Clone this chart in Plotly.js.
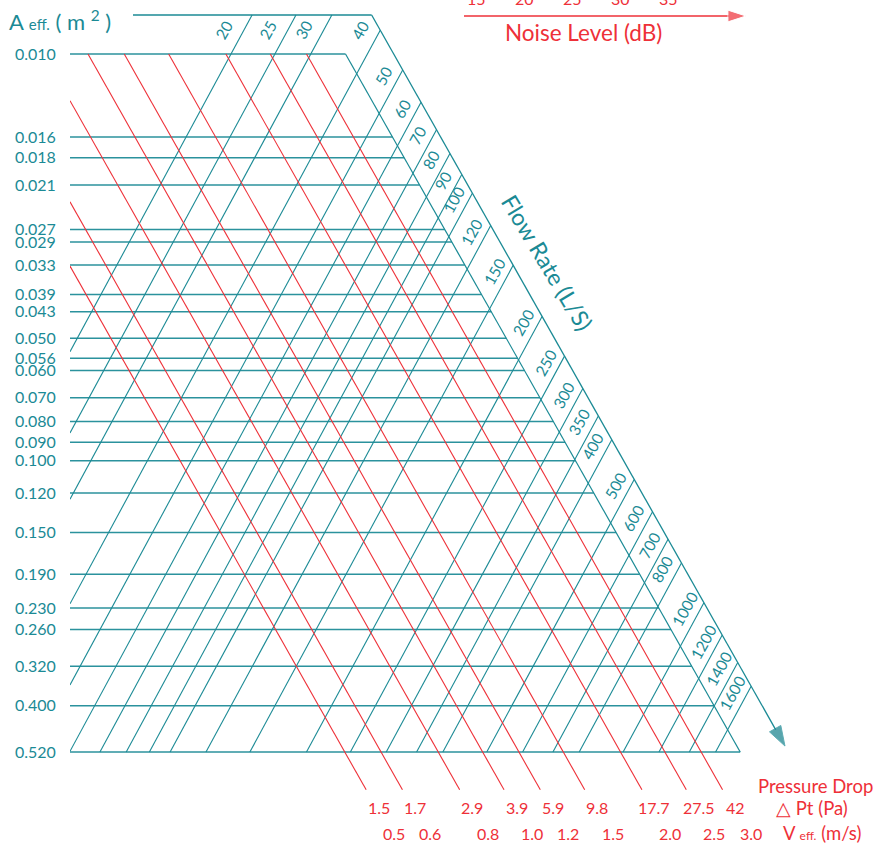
<!DOCTYPE html>
<html><head><meta charset="utf-8">
<script src="https://cdn.plot.ly/plotly-3.0.1.min.js"></script>
<style>html,body{margin:0;padding:0;background:#fff}</style>
</head><body><div id="chart" style="width:876px;height:843px"></div>
<script>
// ---------------- data ----------------
const areaValues = [0.010,0.016,0.018,0.021,0.027,0.029,0.033,0.039,0.043,0.050,0.056,0.060,0.070,0.080,0.090,0.100,0.120,0.150,0.190,0.230,0.260,0.320,0.400,0.520];
const areaLabels = ["0.010","0.016","0.018","0.021","0.027","0.029","0.033","0.039","0.043","0.050","0.056","0.060","0.070","0.080","0.090","0.100","0.120","0.150","0.190","0.230","0.260","0.320","0.400","0.520"];
const flowRates = [20,25,30,40,50,60,70,80,90,100,120,150,200,250,300,350,400,500,600,700,800,1000,1200,1400,1600];
const velocities = [0.5,0.6,0.8,1.0,1.2,1.5,2.0,2.5,3.0];
const velocityLabels = ["0.5","0.6","0.8","1.0","1.2","1.5","2.0","2.5","3.0"];
const pressureLabels = ["1.5","1.7","2.9","3.9","5.9","9.8","17.7","27.5","42"];
const noiseLevels = [15,20,25,30,35];

// ---------------- nomogram projection ----------------
const lg = Math.log10;
const TEAL = '#1b8a95', TEAL_H = '#2b929d', RED = '#ee3038';
const FONT = 'Lato, "Open Sans", sans-serif';
const X_LEFT = 70;
const A_TOP = 0.00802, A_BOT = 0.52, A_RED_START = 0.010, A_RED_END = 0.644, A_ARROW = 0.5026;
const V_INNER = 3.65, V_OUTER = 4.65, V_MID = 4.15;
function xQ(Q, A){ return 231 + 453*lg(Q/20) - 220*(lg(A)+2); }
function xV(V, A){ return 88 + 458*lg(V) + 230*(lg(A)+2); }
function aQ(Q, x){ return Math.pow(10, (231 + 453*lg(Q/20) - x)/220 - 2); }
function aV(V, x){ return Math.pow(10, (x - 88 - 458*lg(V))/230 - 2); }
function aQV(Q, V){ return Math.pow(10, (143 + 453*lg(Q/20) - 458*lg(V))/450 - 2); }
// paper helper for frame texts (pixel position in the 876x843 figure)
function P(px, py){ return {x:(px-70)/806, y:1-py/843, xref:'paper', yref:'paper', yanchor:'middle'}; }

const traces = [];
// horizontal A lines
{
  const x=[], y=[];
  areaValues.forEach(A=>{ x.push(X_LEFT, xV(V_INNER, A), null); y.push(A, A, null); });
  traces.push({x, y, mode:'lines', line:{color:TEAL_H, width:1.5}, hoverinfo:'skip'});
}
// top frame line + inner diagonal
traces.push({x:[133, xV(V_OUTER, A_TOP)], y:[A_TOP, A_TOP], mode:'lines', line:{color:TEAL, width:1.3}, hoverinfo:'skip'});
traces.push({x:[xV(V_INNER, 0.01), xV(V_INNER, A_BOT)], y:[0.01, A_BOT], mode:'lines', line:{color:TEAL, width:1.2}, hoverinfo:'skip'});
// flow rate lines
{
  const x=[], y=[];
  flowRates.forEach(Q=>{
    let ab = A_BOT, xb = xQ(Q, A_BOT);
    if (xb < X_LEFT){ ab = aQ(Q, X_LEFT); xb = X_LEFT; }
    let ae = aQV(Q, V_OUTER);
    if (ae < A_TOP) ae = A_TOP;
    x.push(xb, xQ(Q, ae), null); y.push(ab, ae, null);
  });
  traces.push({x, y, mode:'lines', line:{color:TEAL, width:1.1}, hoverinfo:'skip'});
}
// velocity lines
{
  const x=[], y=[];
  velocities.forEach(V=>{
    let a0 = A_RED_START, x0 = xV(V, A_RED_START);
    if (x0 < X_LEFT){ a0 = aV(V, X_LEFT); x0 = X_LEFT; }
    x.push(x0, xV(V, A_RED_END), null); y.push(a0, A_RED_END, null);
  });
  traces.push({x, y, mode:'lines', line:{color:RED, width:1.1}, hoverinfo:'skip'});
}
// outer diagonal with arrow
traces.push({x:[xV(V_OUTER, A_TOP), xV(V_OUTER, A_ARROW)], y:[A_TOP, A_ARROW], mode:'lines+markers',
  line:{color:TEAL, width:1.3}, marker:{symbol:'arrow', size:[0,21], angleref:'previous', color:'#12808b'}, hoverinfo:'skip'});
// noise level arrow
const A_NOISE = Math.pow(10, -2 + (16-54)/406.8);
traces.push({x:[464, 746], y:[A_NOISE, A_NOISE], mode:'lines+markers',
  line:{color:RED, width:1.3}, marker:{symbol:'arrow', size:[0,19], angleref:'previous', color:RED}, hoverinfo:'skip'});

// ---------------- annotations ----------------
const ann = [];
// flow rate labels
flowRates.forEach(Q=>{
  const ac = aQV(Q, V_MID);
  let x, A;
  if (ac < 0.01){
    A = Math.pow(10, -2 + (30-54)/406.8);
    x = xQ(Q, A) - 20;
  } else {
    A = ac / Math.pow(10, 14/406.8);
    x = xV(V_MID, A);
  }
  ann.push({x, y:lg(A), xref:'x', yref:'y', xanchor:'center', yanchor:'middle', text:String(Q), showarrow:false, textangle:-61,
    font:{family:FONT, size:15.5, color:TEAL}});
});
// bottom labels
const LOG_P = -2 + (807-54)/406.8, LOG_V = -2 + (833-54)/406.8;
velocities.forEach((V,i)=>{
  const xe = xV(V, A_RED_END);
  ann.push({x:xe+12.5, y:LOG_P, xref:'x', yref:'y', xanchor:'center', yanchor:'middle', text:pressureLabels[i], showarrow:false, font:{family:FONT,size:16,color:RED}});
  ann.push({x:xe+28, y:LOG_V, xref:'x', yref:'y', xanchor:'center', yanchor:'middle', text:velocityLabels[i], showarrow:false, font:{family:FONT,size:16,color:RED}});
});
// noise level scale labels (cut at top)
noiseLevels.forEach(n=>{
  ann.push(Object.assign(P(572.2 + 9.62*(n-25), -2), {xanchor:'center', text:String(n), showarrow:false, font:{family:FONT,size:16,color:RED}}));
});
ann.push(Object.assign(P(583, 33), {xanchor:'center', text:'Noise Level (dB)', showarrow:false, font:{family:FONT,size:22.5,color:RED}}));
ann.push(Object.assign(P(547, 262), {xanchor:'center', text:'Flow Rate (L/S)', showarrow:false, textangle:59, font:{family:FONT,size:23,color:TEAL}}));
ann.push(Object.assign(P(7, 20), {text:"A <span style='font-size:15px'>eff.</span> ( m <sup>2</sup> )", showarrow:false, xanchor:'left', font:{family:FONT,size:22,color:TEAL}}));
ann.push(Object.assign(P(756, 786), {text:'Pressure Drop', showarrow:false, xanchor:'left', font:{family:FONT,size:18.5,color:RED}}));
ann.push(Object.assign(P(812, 808), {xanchor:'center', text:'△ Pt (Pa)', showarrow:false, font:{family:FONT,size:18.5,color:RED}}));
ann.push(Object.assign(P(781, 833), {text:"V <span style='font-size:12px'>eff.</span> (m/s)", showarrow:false, xanchor:'left', font:{family:FONT,size:18.5,color:RED}}));

const layout = {
  width:876, height:843, margin:{l:70, r:0, t:0, b:0},
  paper_bgcolor:'#ffffff', plot_bgcolor:'#ffffff', showlegend:false,
  xaxis:{range:[70,876], visible:false, fixedrange:true},
  yaxis:{type:'log', range:[-0.06047, -2.13274], tickvals:areaValues, ticktext:areaLabels,
    showgrid:false, zeroline:false, showline:false, ticks:'outside', ticklen:10, tickcolor:'rgba(0,0,0,0)',
    tickfont:{family:FONT, size:16, color:TEAL}, fixedrange:true},
  annotations: ann
};
Plotly.newPlot('chart', traces, layout, {staticPlot:true, displayModeBar:false});
</script></body></html>
